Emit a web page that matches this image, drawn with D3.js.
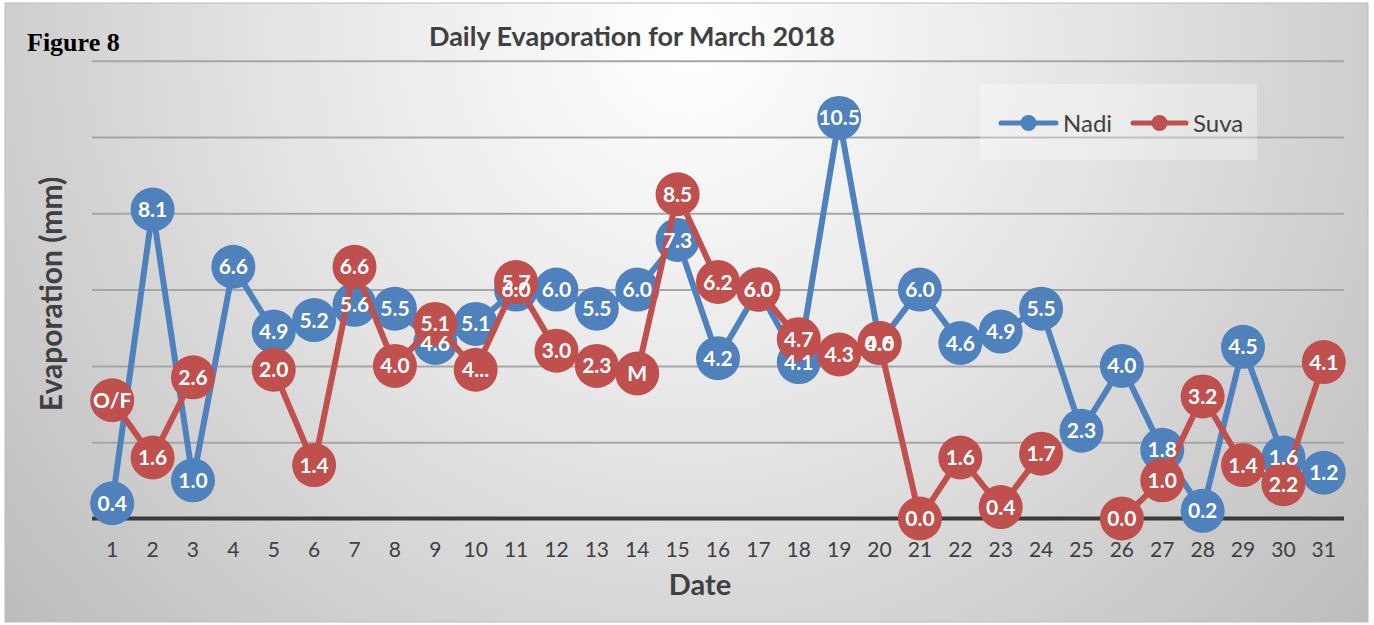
<!DOCTYPE html>
<html>
<head>
<meta charset="utf-8">
<script src="https://cdn.jsdelivr.net/npm/d3@7"></script>
<style>
  body { margin: 0; background: #fff; }
  text { font-family: Lato, "Open Sans", sans-serif; }
</style>
</head>
<body>
<svg id="chart" width="1374" height="625"></svg>
<script>
// days of March 2018
var days = d3.range(1, 32).map(String);

// Nadi, plotted values and their data labels
var nadiValues = [0.4, 8.1, 1.0, 6.6, 4.9, 5.2, 5.6, 5.5, 4.6, 5.1, 6.0, 6.0, 5.5, 6.0, 7.3, 4.2,
                  6.0, 4.1, 10.5, 4.6, 6.0, 4.6, 4.9, 5.5, 2.3, 4.0, 1.8, 0.2, 4.5, 1.6, 1.2];
var nadiLabels = ["0.4", "8.1", "1.0", "6.6", "4.9", "5.2", "5.6", "5.5", "4.6", "5.1", "6.0", "6.0", "5.5", "6.0", "7.3", "4.2",
                  "6.0", "4.1", "10.5", "4.6", "6.0", "4.6", "4.9", "5.5", "2.3", "4.0", "1.8", "0.2", "4.5", "1.6", "1.2"];

// Suva, plotted values (null = no point) and the labels shown in the figure
var suvaValues = [3.1, 1.6, 3.7, null, 3.9, 1.4, 6.6, 4.0, 5.1, 3.9, 6.2, 4.4, 4.0, 3.8, 8.5, 6.2,
                  6.0, 4.7, 4.3, 4.6, 0.0, 1.6, 0.3, 1.7, null, 0.0, 1.0, 3.2, 1.4, 0.9, 4.1];
var suvaLabels = ["O/F", "1.6", "2.6", null, "2.0", "1.4", "6.6", "4.0", "5.1", "4...", "5.7", "3.0", "2.3", "M", "8.5", "6.2",
                  "6.0", "4.7", "4.3", "0.0", "0.0", "1.6", "0.4", "1.7", null, "0.0", "1.0", "3.2", "1.4", "2.2", "4.1"];

var gridValues = [2, 4, 6, 8, 10, 12];

var svg = d3.select("#chart");

// background gradient
var defs = svg.append("defs");
var grad = defs.append("radialGradient")
    .attr("id", "bg")
    .attr("gradientUnits", "userSpaceOnUse")
    .attr("cx", 690).attr("cy", 40).attr("r", 920);
grad.append("stop").attr("offset", "0%").attr("stop-color", "#ffffff");
grad.append("stop").attr("offset", "45%").attr("stop-color", "#e4e4e4");
grad.append("stop").attr("offset", "100%").attr("stop-color", "#bababa");

svg.append("rect")
    .attr("x", 5).attr("y", 3)
    .attr("width", 1363).attr("height", 619)
    .attr("fill", "url(#bg)")
    .attr("stroke", "#bcbcbc")
    .attr("stroke-width", 1);

var plot = {left: 92, right: 1344, top: 60.7, bottom: 518.5};

var x = d3.scaleBand().domain(days).range([plot.left, plot.right]).padding(0);
var y = d3.scaleLinear().domain([0, 12]).range([plot.bottom, plot.top]);

function cx(i) { return x(days[i]) + x.bandwidth() / 2; }

// gridlines
svg.append("g")
    .attr("class", "grid")
    .attr("transform", "translate(" + plot.left + ",0)")
    .call(d3.axisLeft(y).tickValues(gridValues).tickSize(-(plot.right - plot.left)).tickFormat(""))
    .call(function (g) {
        g.select(".domain").remove();
        g.selectAll("line").attr("stroke", "#a6a6a6").attr("stroke-width", 2);
    });

// x axis
svg.append("g")
    .attr("class", "axis axis--x")
    .attr("transform", "translate(0," + plot.bottom + ")")
    .call(d3.axisBottom(x).tickSize(0).tickPadding(24))
    .call(function (g) {
        g.select(".domain").remove();
        g.selectAll("text")
            .attr("fill", "#404040")
            .style("font-size", "21px")
            .style("font-family", "Lato, sans-serif");
    });

svg.append("line")
    .attr("x1", plot.left).attr("x2", plot.right)
    .attr("y1", y(0)).attr("y2", y(0))
    .attr("stroke", "#3a3a3a")
    .attr("stroke-width", 4);

// titles
svg.append("text")
    .attr("x", 632).attr("y", 46)
    .attr("text-anchor", "middle")
    .attr("fill", "#404040")
    .style("font-size", "27px").style("font-weight", "bold")
    .text("Daily Evaporation for March 2018");

svg.append("text")
    .attr("x", 27).attr("y", 51)
    .attr("fill", "#000")
    .style("font-family", "'Liberation Serif', 'DejaVu Serif', serif")
    .style("font-size", "26px").style("font-weight", "bold")
    .text("Figure 8");

svg.append("text")
    .attr("transform", "translate(62,294) rotate(-90)")
    .attr("text-anchor", "middle")
    .attr("fill", "#404040")
    .style("font-size", "30px").style("font-weight", "bold")
    .text("Evaporation (mm)");

svg.append("text")
    .attr("x", 700).attr("y", 595)
    .attr("text-anchor", "middle")
    .attr("fill", "#404040")
    .style("font-size", "29px").style("font-weight", "bold")
    .text("Date");

// series
var series = [
    {name: "Nadi", color: "#4f81bd", values: nadiValues, labels: nadiLabels},
    {name: "Suva", color: "#c0504d", values: suvaValues, labels: suvaLabels}
];

var line = d3.line()
    .defined(function (d) { return d != null; })
    .x(function (d, i) { return cx(i); })
    .y(function (d) { return y(d); });

series.forEach(function (s) {
    var g = svg.append("g").attr("class", "series");
    g.append("path")
        .datum(s.values)
        .attr("d", line)
        .attr("fill", "none")
        .attr("stroke", s.color)
        .attr("stroke-width", 6)
        .attr("stroke-linejoin", "round")
        .attr("stroke-linecap", "round");

    g.selectAll("circle")
        .data(s.values.map(function (v, i) { return {v: v, i: i}; }).filter(function (d) { return d.v != null; }))
        .enter().append("circle")
        .attr("cx", function (d) { return cx(d.i); })
        .attr("cy", function (d) { return y(d.v); })
        .attr("r", 22)
        .attr("fill", s.color);
});

// data labels on top of all markers
series.forEach(function (s) {
    svg.append("g").attr("class", "labels")
        .selectAll("text")
        .data(s.values.map(function (v, i) { return {v: v, i: i, t: s.labels[i]}; }).filter(function (d) { return d.v != null; }))
        .enter().append("text")
        .attr("x", function (d) { return cx(d.i); })
        .attr("y", function (d) { return y(d.v); })
        .attr("dy", "0.36em")
        .attr("text-anchor", "middle")
        .attr("fill", "#fff")
        .style("font-size", "21px").style("font-weight", "bold")
        .text(function (d) { return d.t; });
});

// legend
var legend = svg.append("g").attr("class", "legend");
legend.append("rect")
    .attr("x", 980).attr("y", 84)
    .attr("width", 277).attr("height", 76)
    .attr("fill", "#ffffff").attr("fill-opacity", 0.3);

var legendItems = [
    {name: "Nadi", color: "#4f81bd", x0: 1001, x1: 1056, tx: 1063},
    {name: "Suva", color: "#c0504d", x0: 1133, x1: 1186, tx: 1193}
];
legendItems.forEach(function (d) {
    legend.append("line")
        .attr("x1", d.x0).attr("x2", d.x1)
        .attr("y1", 123).attr("y2", 123)
        .attr("stroke", d.color).attr("stroke-width", 5).attr("stroke-linecap", "round");
    legend.append("circle")
        .attr("cx", (d.x0 + d.x1) / 2).attr("cy", 123).attr("r", 8)
        .attr("fill", d.color);
    legend.append("text")
        .attr("x", d.tx).attr("y", 123).attr("dy", "0.36em")
        .attr("fill", "#404040")
        .style("font-size", "24px")
        .text(d.name);
});
</script>
</body>
</html>
